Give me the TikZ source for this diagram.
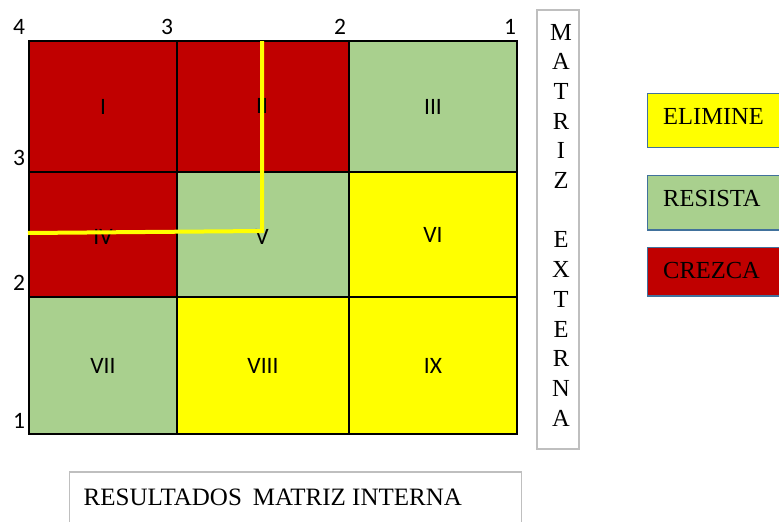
\documentclass[tikz,border=0pt]{standalone}
\usepackage{fontspec}
\setmainfont{Liberation Serif}
\newfontfamily\calib{Carlito}
\definecolor{cred}{HTML}{C00000}
\definecolor{cgreen}{HTML}{A9D08E}
\definecolor{cyellow}{HTML}{FFFF00}
\definecolor{legendborder}{HTML}{41719C}
\definecolor{grayborder}{HTML}{BFBFBF}
\tikzset{
  celltxt/.style={font=\calib\fontsize{23.5}{26}\selectfont, inner sep=0pt},
  axis/.style={font=\calib\fontsize{23.5}{26}\selectfont, inner sep=0pt},
  legbox/.style={draw=legendborder, line width=1.5pt, anchor=north west, inner sep=0pt},
  legtxt/.style={font=\fontsize{24.5}{28}\selectfont, anchor=base west, inner sep=0pt},
  graybox/.style={draw=grayborder, line width=1.5pt, inner sep=0pt},
  serif/.style={font=\fontsize{24.5}{28}\selectfont, inner sep=0pt},
  yline/.style={draw=cyellow, line width=4pt}
}
\begin{document}
\begin{tikzpicture}[x=1pt,y=-1pt]
\clip (0,0) rectangle (779,522);
\fill[white] (0,0) rectangle (779,522);
% grid cells
\def\xa{29}\def\xb{177}\def\xc{349}\def\xd{517}
\def\ya{41}\def\yb{172}\def\yc{297}\def\yd{434}
\path[draw=black, line width=2pt, fill=cred]   (\xa,\ya) rectangle (\xb,\yb) node[midway, celltxt] (c1) {I};
\path[draw=black, line width=2pt, fill=cred]   (\xb,\ya) rectangle (\xc,\yb) node[midway, celltxt] (c2) {};
\path[draw=black, line width=2pt, fill=cgreen] (\xc,\ya) rectangle (\xd,\yb) node[midway, celltxt] (c3) {III};
\path[draw=black, line width=2pt, fill=cred]   (\xa,\yb) rectangle (\xb,\yc) node[midway, celltxt] (c4) {};
\path[draw=black, line width=2pt, fill=cgreen] (\xb,\yb) rectangle (\xc,\yc) node[midway, celltxt] (c5) {};
\path[draw=black, line width=2pt, fill=cyellow] (\xc,\yb) rectangle (\xd,\yc) node[midway, celltxt] (c6) {VI};
\path[draw=black, line width=2pt, fill=cgreen] (\xa,\yc) rectangle (\xb,\yd) node[midway, celltxt] (c7) {VII};
\path[draw=black, line width=2pt, fill=cyellow] (\xb,\yc) rectangle (\xc,\yd) node[midway, celltxt] (c8) {VIII};
\path[draw=black, line width=2pt, fill=cyellow] (\xc,\yc) rectangle (\xd,\yd) node[midway, celltxt] (c9) {IX};
% labels placed to match
\node[celltxt] (l2) at (262,106) {II};
\node[celltxt] (l4) at (103,237) {IV};
\node[celltxt] (l5) at (262,237) {V};
% axis numbers
\node[axis] (t4) at (19,27) {4};
\node[axis] (t3) at (167,27) {3};
\node[axis] (t2) at (340,27) {2};
\node[axis] (t1) at (510,27) {1};
\node[axis] (s3) at (19,158) {3};
\node[axis] (s2) at (19,283) {2};
\node[axis] (s1) at (19,421) {1};
% yellow path
\coordinate (ytop) at (262,41);
\coordinate (ycorner) at (262,231);
\coordinate (yleft) at (28,233);
\draw[yline] (ytop) -- (ycorner) -- (yleft);
% vertical MATRIZ EXTERNA box
\node[graybox, anchor=north west, minimum width=42pt, minimum height=439pt] (vbox) at (536,9) {};
\foreach \l [count=\i from 0] in {M,A,T,R,I,Z,{},E,X,T,E,R,N,A}{
  \node[serif, anchor=base] (ve\i) at (561,{40+\i*29.7}) {\l};
}
% legend
\node[legbox, fill=cyellow, minimum width=140pt, minimum height=54pt] (bel) at (646.5,92.5) {};
\node[legtxt] (tel) at (663,124) {ELIMINE};
\node[legbox, fill=cgreen, minimum width=140pt, minimum height=54.5pt] (bre) at (646.5,174.5) {};
\node[legtxt] (tre) at (663,206) {RESISTA};
\node[legbox, fill=cred, minimum width=140pt, minimum height=48.5pt] (bcr) at (646.5,246.5) {};
\node[legtxt] (tcr) at (663,278) {CREZCA};
% bottom box
\node[graybox, anchor=north west, minimum width=452pt, minimum height=70pt] (bbox) at (68.5,471) {};
\node[legtxt, font=\fontsize{25}{28}\selectfont] (tbot) at (83.5,505) {RESULTADOS\hspace{11pt}MATRIZ INTERNA};
\end{tikzpicture}
\end{document}
